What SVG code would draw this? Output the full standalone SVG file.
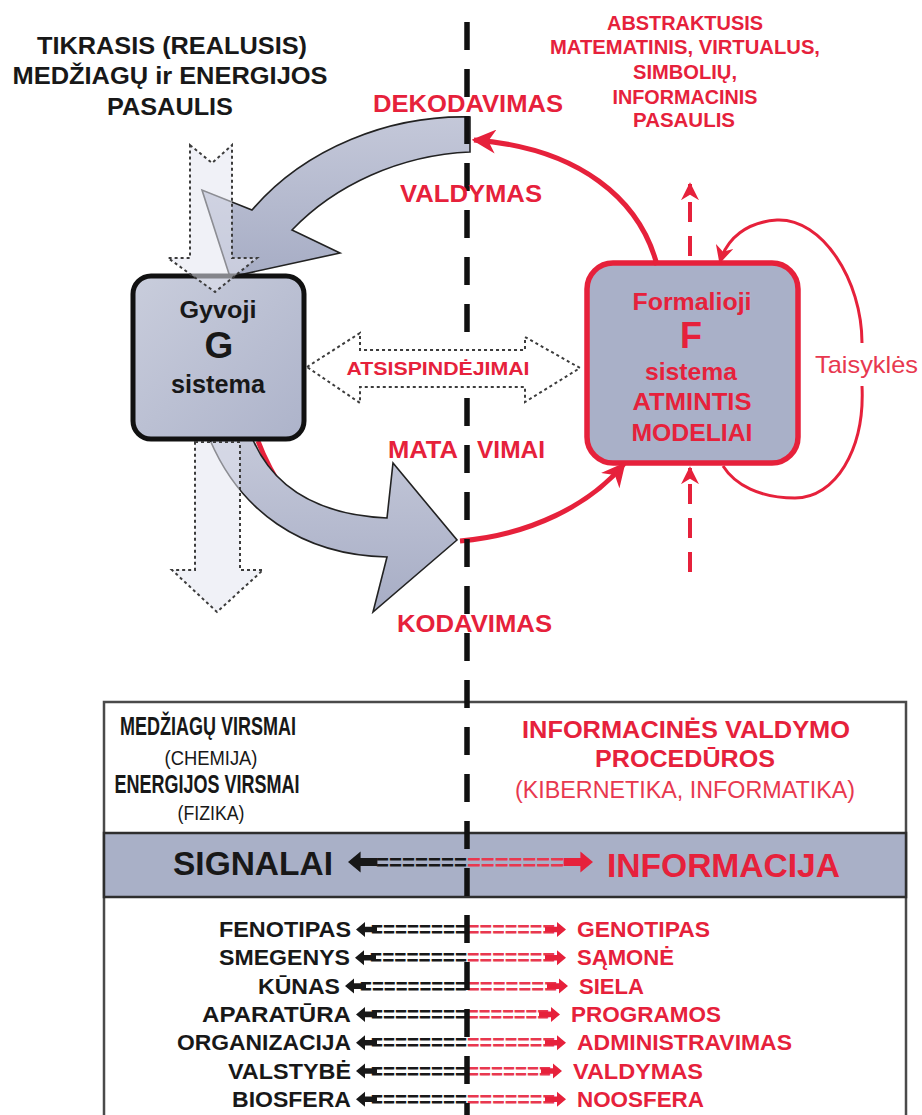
<svg xmlns="http://www.w3.org/2000/svg" width="922" height="1115" viewBox="0 0 922 1115">
<defs>
<style>
text{font-family:"Liberation Sans",Arial,Helvetica,sans-serif}
.b{font-weight:bold}
.k{fill:#181818}
.r{fill:#e6213b}
.rl{fill:#e8384f}
.c{text-anchor:middle}
.e{text-anchor:end}
.dot{fill:#e3e6f0;fill-opacity:.55;stroke:#3c3c3c;stroke-width:2;stroke-dasharray:3 3}
.dotw{fill:#ffffff;stroke:#3c3c3c;stroke-width:2;stroke-dasharray:3 3}
.big{fill:url(#gArrow);stroke:#222;stroke-width:1.6}
.red{fill:none;stroke:#e6213b;stroke-width:5}
.redt{fill:none;stroke:#e6213b;stroke-width:3}
.redd{fill:none;stroke:#e6213b;stroke-width:4;stroke-dasharray:20 14}
.row{font-size:22px;font-weight:bold}
.dash{font-size:22px;font-weight:bold}
</style>
<linearGradient id="gArrow" x1="0" y1="0" x2="0" y2="1"><stop offset="0" stop-color="#c4c8d9"/><stop offset="1" stop-color="#a7adc5"/></linearGradient>
<linearGradient id="gBox" x1="0" y1="0" x2="1" y2="1"><stop offset="0" stop-color="#c9cddc"/><stop offset="1" stop-color="#adb3ca"/></linearGradient>
<marker id="ar" viewBox="0 0 10 10" refX="9" refY="5" markerUnits="userSpaceOnUse" markerWidth="24" markerHeight="24" orient="auto"><path d="M0,0 L10,5 L0,10 L3,5 Z" fill="#e6213b"/></marker>
<marker id="ar2" viewBox="0 0 10 10" refX="9" refY="5" markerUnits="userSpaceOnUse" markerWidth="18" markerHeight="18" orient="auto"><path d="M0,0 L10,5 L0,10 L3,5 Z" fill="#e6213b"/></marker>
<path id="la" d="M0,0 L9,-7.5 L9,-2.8 L21,-2.8 L21,2.8 L9,2.8 L9,7.5 Z"/>
<path id="ra" d="M0,0 L-9,-7.5 L-9,-2.8 L-21,-2.8 L-21,2.8 L-9,2.8 L-9,7.5 Z"/>
</defs>
<rect width="922" height="1115" fill="#ffffff"/>

<!-- lower table -->
<g id="table">
<rect x="104" y="702" width="802" height="440" fill="#ffffff" stroke="#4a4a4a" stroke-width="2.5"/>
<rect x="104" y="833" width="802" height="64" fill="#a9b0c7" stroke="#2e2e2e" stroke-width="2.5"/>
<g id="table-left">
<text class="b k c" x="208" y="735" font-size="25" textLength="176" lengthAdjust="spacingAndGlyphs">MEDŽIAGŲ VIRSMAI</text>
<text class="k c" x="211" y="765" font-size="21" textLength="93" lengthAdjust="spacingAndGlyphs">(CHEMIJA)</text>
<text class="b k c" x="207" y="793" font-size="25" textLength="185" lengthAdjust="spacingAndGlyphs">ENERGIJOS VIRSMAI</text>
<text class="k c" x="211" y="820" font-size="21" textLength="67" lengthAdjust="spacingAndGlyphs">(FIZIKA)</text>
</g>
<g id="table-right">
<text class="b r c" x="686" y="738" font-size="24" textLength="328" lengthAdjust="spacingAndGlyphs">INFORMACINĖS VALDYMO</text>
<text class="b r c" x="685" y="767" font-size="24" textLength="180" lengthAdjust="spacingAndGlyphs">PROCEDŪROS</text>
<text class="rl c" x="685" y="798" font-size="23" textLength="340" lengthAdjust="spacingAndGlyphs">(KIBERNETIKA, INFORMATIKA)</text>
</g>
<g id="band">
<text class="b k" x="173" y="875" font-size="33.5" textLength="160" lengthAdjust="spacingAndGlyphs">SIGNALAI</text>
<use href="#la" transform="translate(348,862) scale(1.4)" fill="#181818"/>
<text class="dash k" x="376" y="870" textLength="91" lengthAdjust="spacingAndGlyphs">=======</text>
<text class="dash rl" x="467" y="870" textLength="97" lengthAdjust="spacingAndGlyphs">=======</text>
<use href="#ra" transform="translate(593,862) scale(1.4)" fill="#e6213b"/>
<text class="b r" x="607" y="877" font-size="33.5" textLength="233" lengthAdjust="spacingAndGlyphs">INFORMACIJA</text>
</g>
<g id="rows">
<text class="row k e" x="351" y="937" textLength="132" lengthAdjust="spacingAndGlyphs">FENOTIPAS</text>
<use href="#la" x="356" y="929.5" fill="#181818"/>
<text class="dash k" x="371" y="937" textLength="96" lengthAdjust="spacingAndGlyphs">========</text>
<text class="dash rl" x="467" y="937" textLength="88" lengthAdjust="spacingAndGlyphs">=======</text>
<use href="#ra" x="566" y="929.5" fill="#e6213b"/>
<text class="row r" x="577" y="937" textLength="133" lengthAdjust="spacingAndGlyphs">GENOTIPAS</text>

<text class="row k e" x="350" y="965.3" textLength="131" lengthAdjust="spacingAndGlyphs">SMEGENYS</text>
<use href="#la" x="355" y="957.8" fill="#181818"/>
<text class="dash k" x="370" y="965.3" textLength="97" lengthAdjust="spacingAndGlyphs">========</text>
<text class="dash rl" x="467" y="965.3" textLength="88" lengthAdjust="spacingAndGlyphs">=======</text>
<use href="#ra" x="566" y="957.8" fill="#e6213b"/>
<text class="row r" x="577" y="965.3" textLength="97" lengthAdjust="spacingAndGlyphs">SĄMONĖ</text>

<text class="row k e" x="340" y="993.6" textLength="82" lengthAdjust="spacingAndGlyphs">KŪNAS</text>
<use href="#la" x="345" y="986.1" fill="#181818"/>
<text class="dash k" x="360" y="993.6" textLength="107" lengthAdjust="spacingAndGlyphs">=========</text>
<text class="dash rl" x="467" y="993.6" textLength="90" lengthAdjust="spacingAndGlyphs">=======</text>
<use href="#ra" x="568" y="986.1" fill="#e6213b"/>
<text class="row r" x="579" y="993.6" textLength="65" lengthAdjust="spacingAndGlyphs">SIELA</text>

<text class="row k e" x="351" y="1021.9" textLength="149" lengthAdjust="spacingAndGlyphs">APARATŪRA</text>
<use href="#la" x="356" y="1014.4" fill="#181818"/>
<text class="dash k" x="371" y="1021.9" textLength="96" lengthAdjust="spacingAndGlyphs">========</text>
<text class="dash rl" x="467" y="1021.9" textLength="82" lengthAdjust="spacingAndGlyphs">=======</text>
<use href="#ra" x="560" y="1014.4" fill="#e6213b"/>
<text class="row r" x="571" y="1021.9" textLength="150" lengthAdjust="spacingAndGlyphs">PROGRAMOS</text>

<text class="row k e" x="351" y="1050.2" textLength="174" lengthAdjust="spacingAndGlyphs">ORGANIZACIJA</text>
<use href="#la" x="356" y="1042.7" fill="#181818"/>
<text class="dash k" x="371" y="1050.2" textLength="96" lengthAdjust="spacingAndGlyphs">========</text>
<text class="dash rl" x="467" y="1050.2" textLength="88" lengthAdjust="spacingAndGlyphs">=======</text>
<use href="#ra" x="566" y="1042.7" fill="#e6213b"/>
<text class="row r" x="577" y="1050.2" textLength="215" lengthAdjust="spacingAndGlyphs">ADMINISTRAVIMAS</text>

<text class="row k e" x="351" y="1078.5" textLength="123" lengthAdjust="spacingAndGlyphs">VALSTYBĖ</text>
<use href="#la" x="356" y="1071" fill="#181818"/>
<text class="dash k" x="371" y="1078.5" textLength="96" lengthAdjust="spacingAndGlyphs">========</text>
<text class="dash rl" x="467" y="1078.5" textLength="84" lengthAdjust="spacingAndGlyphs">=======</text>
<use href="#ra" x="562" y="1071" fill="#e6213b"/>
<text class="row r" x="573" y="1078.5" textLength="130" lengthAdjust="spacingAndGlyphs">VALDYMAS</text>

<text class="row k e" x="351" y="1106.8" textLength="119" lengthAdjust="spacingAndGlyphs">BIOSFERA</text>
<use href="#la" x="356" y="1099.3" fill="#181818"/>
<text class="dash k" x="371" y="1106.8" textLength="96" lengthAdjust="spacingAndGlyphs">========</text>
<text class="dash rl" x="467" y="1106.8" textLength="88" lengthAdjust="spacingAndGlyphs">=======</text>
<use href="#ra" x="566" y="1099.3" fill="#e6213b"/>
<text class="row r" x="577" y="1106.8" textLength="127" lengthAdjust="spacingAndGlyphs">NOOSFERA</text>
</g>
</g>

<!-- connectors -->
<g id="connectors">
<path class="red" d="M258,441 C265,460 275,478 287,496"/>
<path id="arrow-valdymas" class="big" d="M470,117 C390,115 305,148 252,210 L202,190 L230,277 L340,253 L292,230 C335,185 400,155 470,152 Z"/>
<path id="arrow-matavimai" class="big" d="M210,440 C240,510 300,555 387,557 L373,612 L457,540 L393,463 L387,518 C320,515 275,490 253,440 Z"/>
</g>

<g id="node-G">
<rect x="133" y="276" width="171" height="163" rx="18" fill="url(#gBox)" stroke="#111" stroke-width="5"/>
<text class="b k c" x="218" y="318" font-size="24" textLength="77" lengthAdjust="spacingAndGlyphs">Gyvoji</text>
<text class="b k c" x="219" y="358" font-size="37">G</text>
<text class="b k c" x="218" y="393" font-size="25" textLength="94" lengthAdjust="spacingAndGlyphs">sistema</text>
</g>

<g id="node-F">
<rect x="587" y="263" width="211" height="200" rx="26" fill="#a9b0c8" stroke="#e6213b" stroke-width="5.5"/>
<text class="b r c" x="692" y="310" font-size="24" textLength="119" lengthAdjust="spacingAndGlyphs">Formalioji</text>
<text class="b r c" x="691" y="348" font-size="36">F</text>
<text class="b r c" x="691" y="380" font-size="24" textLength="92" lengthAdjust="spacingAndGlyphs">sistema</text>
<text class="b r c" x="692" y="410" font-size="24" textLength="119" lengthAdjust="spacingAndGlyphs">ATMINTIS</text>
<text class="b r c" x="692" y="441" font-size="24" textLength="121" lengthAdjust="spacingAndGlyphs">MODELIAI</text>
</g>

<g id="flows">
<path id="flow-in" class="dot" d="M190,145 L212,163 L232,145 L232,258 L257,258 L215,292 L168,258 L190,258 Z"/>
<path id="flow-out" class="dot" d="M195,442 L240,442 L240,570 L263,570 L217,612 L172,570 L195,570 Z"/>
<path id="arc-dekodavimas" class="red" marker-end="url(#ar)" d="M657,265 C640,200 580,148 474,140"/>
<path id="arc-kodavimas" class="red" marker-end="url(#ar)" d="M460,541 C530,535 590,505 624,464"/>
<path id="loop-taisykles-a" class="redt" marker-end="url(#ar2)" d="M862,343 C862,280 822,218 777,220 C747,222 727,238 720,262"/>
<path id="loop-taisykles-b" class="redt" d="M862,386 C865,450 835,498 795,498 C760,498 735,485 723,466"/>
<path id="up-abstract" class="redd" marker-end="url(#ar2)" d="M690,256 L690,184"/>
<path id="up-into-F" class="redd" marker-end="url(#ar2)" d="M690,572 L690,468"/>
</g>

<line id="boundary" x1="467" y1="22" x2="467" y2="1115" stroke="#111" stroke-width="5.5" stroke-dasharray="28 19"/>

<g id="node-reflections">
<path class="dotw" d="M307,367 L360,333 L360,350 L525,350 L525,337 L580,368 L525,402 L525,387 L360,387 L360,403 Z"/>
<text class="b r c" x="438" y="375" font-size="19" textLength="183" lengthAdjust="spacingAndGlyphs">ATSISPINDĖJIMAI</text>
</g>

<g id="labels">
<text class="b k c" x="172" y="54" font-size="24" textLength="270" lengthAdjust="spacingAndGlyphs">TIKRASIS (REALUSIS)</text>
<text class="b k c" x="170" y="84" font-size="24" textLength="315" lengthAdjust="spacingAndGlyphs">MEDŽIAGŲ ir ENERGIJOS</text>
<text class="b k c" x="170" y="115" font-size="24" textLength="126" lengthAdjust="spacingAndGlyphs">PASAULIS</text>

<text class="b r c" x="685" y="30" font-size="19.5" textLength="156" lengthAdjust="spacingAndGlyphs">ABSTRAKTUSIS</text>
<text class="b r c" x="685" y="54" font-size="19.5" textLength="270" lengthAdjust="spacingAndGlyphs">MATEMATINIS, VIRTUALUS,</text>
<text class="b r c" x="685" y="79" font-size="19.5" textLength="104" lengthAdjust="spacingAndGlyphs">SIMBOLIŲ,</text>
<text class="b r c" x="685" y="104" font-size="19.5" textLength="145" lengthAdjust="spacingAndGlyphs">INFORMACINIS</text>
<text class="b r c" x="684" y="127" font-size="19.5" textLength="102" lengthAdjust="spacingAndGlyphs">PASAULIS</text>

<text class="b r" x="373" y="112" font-size="23.5" textLength="190" lengthAdjust="spacingAndGlyphs">DEKODAVIMAS</text>
<text class="b r" x="400" y="202" font-size="24" textLength="142" lengthAdjust="spacingAndGlyphs">VALDYMAS</text>
<text class="b r" x="388" y="458" font-size="24" textLength="70" lengthAdjust="spacingAndGlyphs">MATA</text>
<text class="b r" x="477" y="458" font-size="24" textLength="68" lengthAdjust="spacingAndGlyphs">VIMAI</text>
<text class="b r" x="397" y="632" font-size="24" textLength="155" lengthAdjust="spacingAndGlyphs">KODAVIMAS</text>
<text class="rl" x="815" y="373" font-size="24" textLength="103" lengthAdjust="spacingAndGlyphs">Taisyklės</text>
</g>
</svg>
